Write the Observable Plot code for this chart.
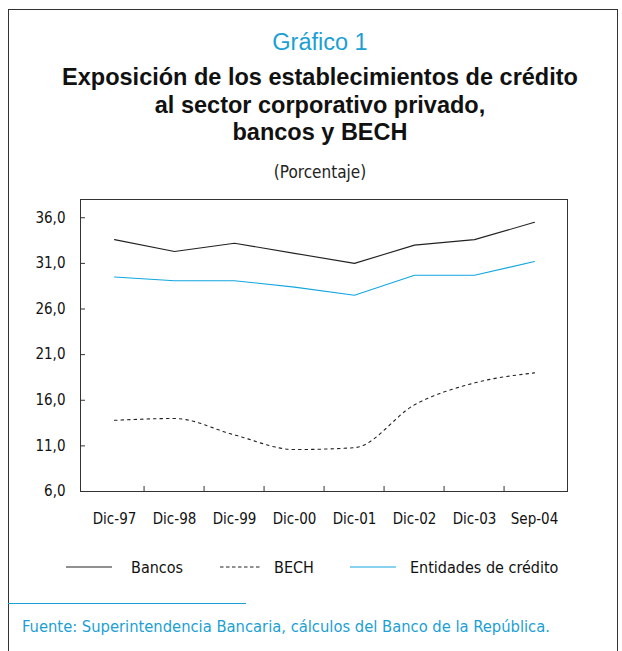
<!DOCTYPE html>
<html>
<head>
<meta charset="utf-8">
<script src="https://cdn.jsdelivr.net/npm/d3@7"></script>
<script src="https://cdn.jsdelivr.net/npm/@observablehq/plot@0.6"></script>
<style>
  html, body { margin: 0; padding: 0; background: #fff; overflow: hidden; }
  #page { position: relative; width: 622px; height: 651px; overflow: hidden; font-family: "Liberation Sans", Arial, sans-serif; }
  #frame { position: absolute; left: 8px; top: 9px; width: 608px; height: 700px; border: 1px solid #333; }
  .c { position: absolute; left: 9px; width: 622px; text-align: center; white-space: nowrap; }
  .narrow { font-family: "Liberation Sans Narrow", "DejaVu Sans Condensed", "Roboto Condensed", sans-serif; }
  #kicker { top: 29px; font-size: 23.5px; color: #1b9fd4; }
  #title { top: 64px; font-size: 23.5px; font-weight: bold; line-height: 27.5px; color: #111; }
  #unit { top: 162px; font-size: 17px; color: #222; }
  #chart { position: absolute; left: 0; top: 185px; }
  #legend { position: absolute; top: 556px; left: 0; width: 622px; height: 22px; font-size: 16px; color: #111; }
  .li { position: absolute; top: 0; display: flex; align-items: center; height: 22px; }
  #srcline { position: absolute; left: 8px; top: 603px; width: 238px; height: 1px; background: #1b9fd4; }
  #source { position: absolute; left: 22px; top: 617px; font-size: 16.4px; color: #1b9fd4; white-space: nowrap; }
</style>
</head>
<body>
<div id="page">
  <div id="frame"></div>
  <div id="kicker" class="c">Gráfico 1</div>
  <div id="title" class="c">Exposición de los establecimientos de crédito<br>al sector corporativo privado,<br>bancos y BECH</div>
  <div id="unit" class="c narrow">(Porcentaje)</div>
  <div id="chart"></div>
  <div id="legend" class="narrow"></div>
  <div id="srcline"></div>
  <div id="source" class="narrow">Fuente: Superintendencia Bancaria, cálculos del Banco de la República.</div>
</div>
<script>
const periods = ["Dic-97", "Dic-98", "Dic-99", "Dic-00", "Dic-01", "Dic-02", "Dic-03", "Sep-04"];
const bancos = [33.6, 32.3, 33.2, 32.1, 31.0, 33.0, 33.6, 35.5];
const bech = [13.8, 14.0, 12.2, 10.6, 10.8, 15.5, 17.9, 19.0];
const entidades = [29.5, 29.1, 29.1, 28.4, 27.5, 29.7, 29.7, 31.2];
const yTicks = [6, 11, 16, 21, 26, 31, 36];
const seriesNames = ["Bancos", "BECH", "Entidades de crédito"];

const rows = (vals, name) => periods.map((p, i) => ({period: p, value: vals[i], series: name}));
const dataBancos = rows(bancos, seriesNames[0]);
const dataBech = rows(bech, seriesNames[1]);
const dataEnt = rows(entidades, seriesNames[2]);

const W = 622, H = 355;
const mL = 80, mR = 55, mT = 14, mB = 49;
const plotW = W - mL - mR, plotH = H - mT - mB;
const step = plotW / periods.length;
const axisFont = `"Liberation Sans Narrow", "DejaVu Sans Condensed", sans-serif`;
const fmt = d => d.toFixed(1).replace(".", ",");

const chart = Plot.plot({
  width: W, height: H,
  marginLeft: mL, marginRight: mR, marginTop: mT, marginBottom: mB,
  style: {fontFamily: axisFont, fontSize: "15px", color: "#111", background: "transparent"},
  x: {type: "band", domain: periods, padding: 0, label: null},
  y: {domain: [6, 38], label: null},
  marks: [
    Plot.frame({stroke: "#333", strokeWidth: 1}),
    Plot.axisY(yTicks, {tickSize: 0, tickPadding: 15, tickFormat: fmt, label: null, fontSize: 15}),
    Plot.ruleY(yTicks, {insetRight: plotW - 5, stroke: "#333"}),
    Plot.axisX({tickSize: 0, tickPadding: 22, label: null, fontSize: 15}),
    Plot.ruleX(periods.slice(1), {dx: -step / 2, insetTop: plotH - 5, stroke: "#333"}),
    Plot.lineY(dataBancos, {x: "period", y: "value", stroke: "#222", strokeWidth: 1.1}),
    Plot.lineY(dataEnt, {x: "period", y: "value", stroke: "#12a6e0", strokeWidth: 1.1}),
    Plot.lineY(dataBech, {x: "period", y: "value", stroke: "#222", strokeWidth: 1.1, strokeDasharray: "2.5,4", curve: "monotone-x"})
  ]
});
document.getElementById("chart").appendChild(chart);

const legendItems = [
  {name: seriesNames[0], left: 66, color: "#222", dash: null, w: 46, gap: 19},
  {name: seriesNames[1], left: 220, color: "#222", dash: "3.5,2.5", w: 42, gap: 12},
  {name: seriesNames[2], left: 350, color: "#12a6e0", dash: null, w: 46, gap: 14}
];
const legend = document.getElementById("legend");
legendItems.forEach(it => {
  const el = document.createElement("div");
  el.className = "li";
  el.style.left = it.left + "px";
  el.innerHTML = `<svg width="${it.w}" height="10" style="margin-right:${it.gap}px"><line x1="0" x2="${it.w}" y1="5" y2="5" stroke="${it.color}" stroke-width="1.1" ${it.dash ? `stroke-dasharray="${it.dash}"` : ""}/></svg><span>${it.name}</span>`;
  legend.appendChild(el);
});
</script>
</body>
</html>
